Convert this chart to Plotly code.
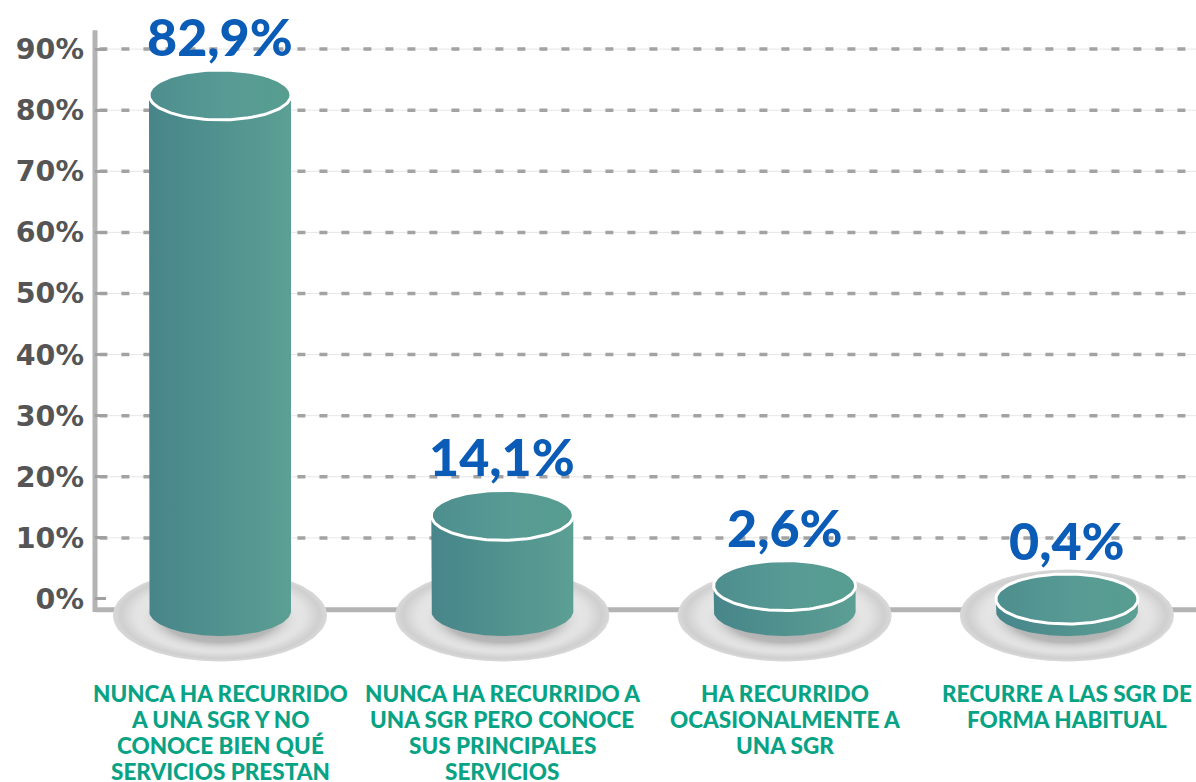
import numpy as np
import plotly.graph_objects as go

# ---------------- data ----------------
categories = [
    "NUNCA HA RECURRIDO<br>A UNA SGR Y NO<br>CONOCE BIEN QUÉ<br>SERVICIOS PRESTAN",
    "NUNCA HA RECURRIDO A<br>UNA SGR PERO CONOCE<br>SUS PRINCIPALES<br>SERVICIOS",
    "HA RECURRIDO<br>OCASIONALMENTE A<br>UNA SGR",
    "RECURRE A LAS SGR DE<br>FORMA HABITUAL",
]
values = [82.9, 14.1, 2.6, 0.4]
value_labels = ["82,9%", "14,1%", "2,6%", "0,4%"]
tick_values = [0, 10, 20, 30, 40, 50, 60, 70, 80, 90]
tick_labels = ["0%", "10%", "20%", "30%", "40%", "50%", "60%", "70%", "80%", "90%"]

# ---------------- style ----------------
W, H = 1196, 782
ML, MR, MT, MB = 95, 0, 20, 102
X_RANGE = [-0.4428, 3.4573]
Y_RANGE = [-13.26, 94.76]
PX_X = (W - ML - MR) / (X_RANGE[1] - X_RANGE[0])
PX_Y = (H - MT - MB) / (Y_RANGE[1] - Y_RANGE[0])

RX = 71 / PX_X          # cylinder half width
RY = 25 / PX_Y          # cylinder ellipse half height
BASE = -1.96            # bottom ellipse centre
TOP_SHIFT = -0.4
SH_RX = 107 / PX_X
SH_RY = 46 / PX_Y
SH_CY = -2.7
AXIS_Y = -1.75
LINE_STEP = 26          # px between category label lines

BLUE = "#0b5cb6"
GREEN = "#08a385"
FONT = "Lato"

fig = go.Figure()


def ell(cx, cy, rx, ry, t0, t1, n=80):
    t = np.linspace(t0, t1, n)
    return cx + rx * np.cos(t), cy + ry * np.sin(t)


# shadows / plates
for i, v in enumerate(values):
    x, y = ell(i, SH_CY, SH_RX, SH_RY, 0, 2 * np.pi, 120)
    fig.add_trace(go.Scatter(
        x=x, y=y, mode="lines", fill="toself", line=dict(width=0),
        fillgradient=dict(type="radial", colorscale=[
            [0, "#e9e9e9"], [0.55, "#eeeeee"], [0.8, "#e2e2e2"],
            [0.93, "#cfcfcf"], [1, "#d9d9d9"]]),
        hoverinfo="skip", showlegend=False))
    # darker contact shadow under the cylinder
    x, y = ell(i, BASE - 7 / PX_Y, RX * 1.15, RY * 1.4, 0, 2 * np.pi, 120)
    fig.add_trace(go.Scatter(
        x=x, y=y, mode="lines", fill="toself", line=dict(width=0),
        fillgradient=dict(type="radial", colorscale=[
            [0, "rgba(100,100,100,0.6)"], [0.7, "rgba(130,130,130,0.5)"],
            [1, "rgba(225,225,225,0)"]]),
        hoverinfo="skip", showlegend=False))

# cylinders
for i, v in enumerate(values):
    top = v + TOP_SHIFT
    xs = [i - RX, i - RX]
    ys = [top, BASE]
    bx, by = ell(i, BASE, RX, RY, np.pi, 2 * np.pi)
    xs += list(bx) + [i + RX]
    ys += list(by) + [top]
    tx, ty = ell(i, top, RX, RY, 2 * np.pi, np.pi)
    xs += list(tx)
    ys += list(ty)
    fig.add_trace(go.Scatter(
        x=xs, y=ys, mode="lines", fill="toself", line=dict(width=0),
        fillgradient=dict(type="horizontal", colorscale=[
            [0, "#47858a"], [0.5, "#51928f"], [1, "#5c9f94"]]),
        hoverinfo="skip", showlegend=False))
    ex, ey = ell(i, top, RX, RY, 0, 2 * np.pi, 120)
    fig.add_trace(go.Scatter(
        x=ex, y=ey, mode="lines", fill="toself",
        line=dict(width=3, color="white"),
        fillgradient=dict(type="horizontal", colorscale=[
            [0, "#4d8e8e"], [0.55, "#589b95"], [1, "#579d8f"]]),
        hoverinfo="skip", showlegend=False))
    fig.add_annotation(x=i, y=top, yshift=59, text=value_labels[i],
                       showarrow=False, yanchor="middle",
                       font=dict(family=FONT, size=52, color=BLUE, weight=900))
    for k, line in enumerate(categories[i].split("<br>")):
        fig.add_annotation(x=i, y=0, yref="paper", yanchor="middle",
                           yshift=-(13 + LINE_STEP * k),
                           text=line, showarrow=False,
                           font=dict(family=FONT, size=22.5, color=GREEN, weight=900))

# gridlines
shapes = []
for t in tick_values[1:]:
    shapes.append(dict(type="line", xref="paper", x0=0, x1=1, y0=t, y1=t,
                       line=dict(color="#e6e6e6", width=1), layer="below"))
    shapes.append(dict(type="line", xref="paper", x0=0.004, x1=1, y0=t, y1=t,
                       line=dict(color="#a3a3a3", width=3.5, dash="8px,14px"),
                       layer="below"))
# axes lines
shapes.append(dict(type="line", xref="paper", x0=0, x1=1, y0=AXIS_Y, y1=AXIS_Y,
                   line=dict(color="#b3b3b3", width=5), layer="below"))
shapes.append(dict(type="line", xref="paper", x0=0, x1=0, y0=AXIS_Y - 0.4, y1=93.1,
                   line=dict(color="#b3b3b3", width=5), layer="below"))

fig.update_layout(
    width=W, height=H, margin=dict(l=ML, r=MR, t=MT, b=MB),
    paper_bgcolor="white", plot_bgcolor="white", shapes=shapes,
    xaxis=dict(range=X_RANGE, visible=False, fixedrange=True),
    yaxis=dict(range=Y_RANGE, tickvals=tick_values, ticktext=tick_labels,
               showgrid=False, zeroline=False, showline=False,
               ticks="inside", ticklen=11, tickwidth=3, tickcolor="#a0a0a0",
               ticklabelstandoff=10,
               tickfont=dict(family="DejaVu Sans", size=28.5, color="#555555",
                             weight="bold"),
               fixedrange=True),
)

fig.write_html("out.html", config={"displayModeBar": False},
               post_script="document.body.style.margin='0';")
